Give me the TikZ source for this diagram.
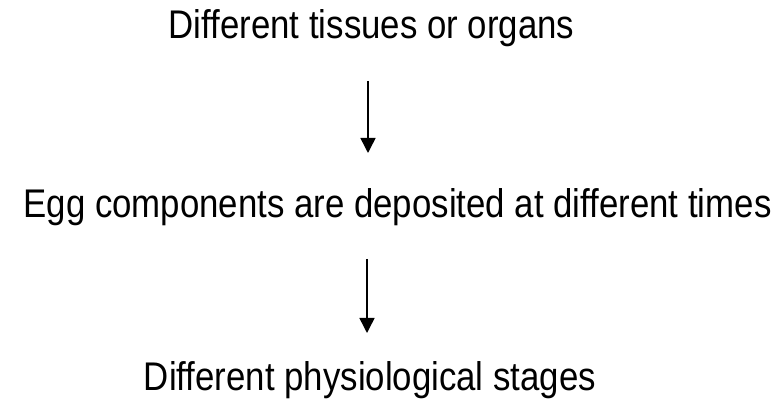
\documentclass[tikz,border=0pt]{standalone}
\usepackage{fontspec}
\setmainfont{Liberation Sans}[FakeStretch=0.87,Ligatures=NoCommon]
\usetikzlibrary{arrows.meta}
\tikzset{
  lbl/.style={inner sep=0pt, anchor=base, font=\fontsize{40}{48}\selectfont},
  flow/.style={line width=1.5pt, -{Triangle[length=15pt,width=15pt]}}
}
\begin{document}
\begin{tikzpicture}[x=1pt,y=1pt]
\useasboundingbox (0,0) rectangle (783,401);
\node[lbl] (t1) at (371.5,362) {Different tissues or organs};
\node[lbl] (t2) at (397.5,183) {Egg components are deposited at different times};
\node[lbl] (t3) at (370,11) {Different physiological stages};
\coordinate (a1s) at (368,320);
\coordinate (a1e) at (368,248);
\coordinate (a2s) at (367,142);
\coordinate (a2e) at (367,68);
\draw[flow] (a1s) -- (a1e);
\draw[flow] (a2s) -- (a2e);
\end{tikzpicture}
\end{document}
